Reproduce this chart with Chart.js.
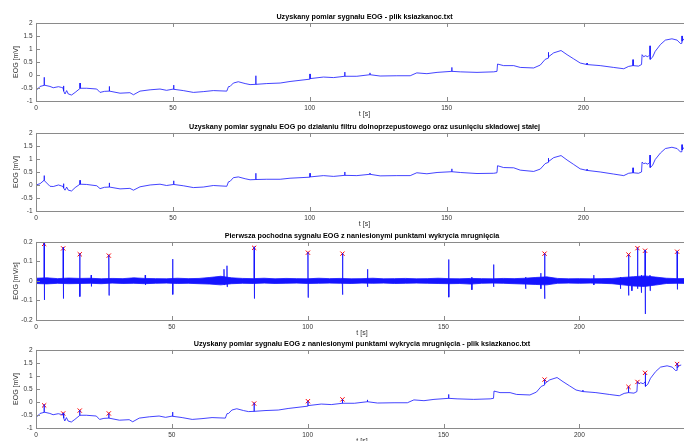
<!DOCTYPE html>
<html lang="pl">
<head>
  <meta charset="UTF-8">
  <title>Sygnał EOG</title>
  <script src="https://cdn.jsdelivr.net/npm/chart.js"></script>
  <style>
    html, body { margin: 0; padding: 0; background: #fff; }
    body { width: 684px; height: 441px; overflow: hidden; position: relative; }
    canvas { position: absolute; left: 0; }
  </style>
</head>
<body>
  <canvas id="raw" width="693" height="125" style="top:0px"></canvas>
  <canvas id="filtered" width="693" height="125" style="top:110px"></canvas>
  <canvas id="deriv" width="693" height="125" style="top:219px"></canvas>
  <canvas id="marked" width="693" height="125" style="top:327px"></canvas>

  <script>
    // tick labels
    const timeTicks = [0, 50, 100, 150, 200];
    const mvTicks = [-1, -0.5, 0, 0.5, 1, 1.5, 2];
    const derivTicks = [-0.2, -0.1, 0, 0.1, 0.2];

    // raw EOG [t, mV]
    const rawPoints = [
      [0,-0.6],[1.5,-0.44],[2.96,-0.4],[3.0,-0.09],[3.04,-0.39],[5.1,-0.44],[6.3,-0.49],[8.2,-0.45],
      [9.4,-0.48],[9.9,-0.5],[10.0,-0.42],[10.2,-0.62],[10.6,-0.73],[11.2,-0.6],[11.8,-0.73],[13.0,-0.77],
      [14.3,-0.67],[16.06,-0.52],[16.1,-0.31],[16.14,-0.51],[18.5,-0.51],[22.2,-0.54],[23.4,-0.67],[25.0,-0.63],
      [26.76,-0.62],[26.8,-0.44],[26.84,-0.62],[30.7,-0.7],[34.3,-0.68],[35.6,-0.76],[38.0,-0.62],[41.7,-0.57],
      [45.3,-0.54],[47.7,-0.59],[50.26,-0.54],[50.3,-0.39],[50.34,-0.55],[53.8,-0.6],[57.5,-0.67],[61.1,-0.64],
      [64.8,-0.6],[69.7,-0.62],[70.3,-0.45],[70.9,-0.44],[72.1,-0.31],[73.9,-0.26],[76.4,-0.33],[78.2,-0.37],
      [80.26,-0.36],[80.3,-0.03],[80.34,-0.36],[84.3,-0.33],[89.2,-0.31],[92.8,-0.25],[100.06,-0.16],[100.1,0.04],
      [100.14,-0.14],[105.0,-0.08],[108.7,-0.1],[112.76,-0.05],[112.8,0.11],[112.84,-0.05],[117.2,-0.05],[121.96,0.01],
      [122.0,0.08],[122.04,0.01],[125.7,-0.04],[131.8,-0.03],[136.7,-0.03],[139.1,0.08],[142.8,0.05],[146.5,0.1],
      [151.86,0.14],[151.9,0.29],[151.94,0.14],[155.0,0.12],[161.1,0.1],[167.2,0.12],[168.4,0.14],[168.6,0.42],
      [170.8,0.36],[174.5,0.36],[176.9,0.29],[181.8,0.27],[184.2,0.38],[186.0,0.6],[187.16,0.65],[187.2,0.87],
      [187.24,0.7],[189.1,0.85],[191.8,0.94],[194.0,0.78],[196.4,0.62],[198.8,0.46],[201.26,0.4],[201.3,0.46],
      [201.34,0.4],[206.1,0.36],[211.0,0.29],[214.7,0.24],[216.5,0.33],[218.06,0.36],[218.1,0.59],[218.14,0.36],
      [220.1,0.34],[221.2,0.4],[221.4,0.78],[222.0,0.7],[222.6,0.74],[223.5,0.7],[224.26,0.78],[224.3,1.12],
      [224.36,0.6],[225.2,0.68],[226.2,0.91],[228.1,1.17],[229.9,1.34],[232.3,1.39],[234.2,1.34],[235.4,1.21],
      [235.96,1.22],[236.0,1.5],[236.04,1.3],[236.8,1.4],[237.5,1.42]
    ];

    // low-pass filtered, offset removed [t, mV]
    const filteredPoints = [
      [0,0.0],[1.5,0.05],[2.96,0.18],[3.0,0.36],[3.04,0.17],[5.1,-0.05],[6.3,-0.06],[8.2,0.0],
      [9.4,-0.04],[9.9,-0.06],[10.0,0.05],[10.2,-0.12],[10.6,-0.2],[11.2,-0.08],[11.8,-0.2],[13.0,-0.23],
      [14.3,-0.1],[16.06,0.03],[16.1,0.18],[16.14,0.03],[18.5,0.02],[22.2,-0.03],[23.4,-0.14],[25.0,-0.09],
      [26.76,-0.08],[26.8,0.08],[26.84,-0.08],[30.7,-0.15],[34.3,-0.13],[35.6,-0.2],[38.0,-0.07],[41.7,0.0],
      [45.3,0.03],[47.7,-0.02],[50.26,0.02],[50.3,0.16],[50.34,0.02],[53.8,-0.03],[57.5,-0.1],[61.1,-0.08],
      [64.8,-0.02],[69.7,-0.05],[70.3,0.12],[70.9,0.14],[72.1,0.28],[73.9,0.31],[76.4,0.24],[78.2,0.2],
      [80.26,0.21],[80.3,0.45],[80.34,0.21],[84.3,0.22],[89.2,0.22],[92.8,0.26],[100.06,0.3],[100.1,0.45],
      [100.14,0.31],[105.0,0.36],[108.7,0.33],[112.76,0.37],[112.8,0.5],[112.84,0.37],[117.2,0.36],[121.96,0.41],
      [122.0,0.46],[122.04,0.41],[125.7,0.35],[131.8,0.36],[136.7,0.36],[139.1,0.47],[142.8,0.43],[146.5,0.48],
      [151.86,0.51],[151.9,0.62],[151.94,0.51],[155.0,0.48],[161.1,0.44],[167.2,0.45],[168.4,0.47],[168.6,0.74],
      [170.8,0.67],[174.5,0.66],[176.9,0.57],[181.8,0.52],[184.2,0.61],[186.0,0.82],[187.16,0.87],[187.2,1.03],
      [187.24,0.9],[189.1,1.05],[191.8,1.13],[194.0,0.96],[196.4,0.79],[198.8,0.62],[201.26,0.56],[201.3,0.6],
      [201.34,0.56],[206.1,0.5],[211.0,0.42],[214.7,0.36],[216.5,0.45],[218.06,0.47],[218.1,0.66],[218.14,0.47],
      [220.1,0.45],[221.2,0.5],[221.4,0.88],[222.0,0.82],[222.6,0.84],[223.5,0.8],[224.26,0.88],[224.3,1.15],
      [224.36,0.67],[225.2,0.75],[226.2,0.98],[228.1,1.23],[229.9,1.4],[232.3,1.45],[234.2,1.4],[235.4,1.27],
      [235.96,1.28],[236.0,1.55],[236.04,1.35],[236.8,1.45],[237.5,1.46]
    ];

    // derivative: noise band envelope every 4 s, 0..240
    const bandTimes = [0,4,8,12,16,20,24,28,32,36,40,44,48,52,56,60,64,68,72,76,80,84,88,92,96,100,104,108,112,116,120,
      124,128,132,136,140,144,148,152,156,160,164,168,172,176,180,184,188,192,196,200,204,208,212,216,220,224,228,232,236,240];
    const bandUpper = [0.014,0.016,0.012,0.015,0.013,0.014,0.011,0.013,0.012,0.016,0.013,0.012,0.011,0.014,0.012,0.013,
      0.018,0.024,0.016,0.013,0.012,0.014,0.011,0.013,0.012,0.011,0.014,0.012,0.013,0.011,0.012,
      0.014,0.011,0.012,0.013,0.011,0.012,0.014,0.012,0.011,0.013,0.012,0.011,0.013,0.012,0.014,
      0.018,0.021,0.013,0.011,0.012,0.011,0.012,0.013,0.018,0.022,0.026,0.02,0.014,0.012,0.013];
    const bandLower = [-0.013,-0.015,-0.012,-0.014,-0.013,-0.012,-0.014,-0.011,-0.013,-0.012,-0.014,-0.012,-0.011,-0.013,-0.012,-0.014,
      -0.016,-0.02,-0.014,-0.012,-0.013,-0.011,-0.013,-0.012,-0.011,-0.013,-0.012,-0.011,-0.012,-0.013,-0.011,
      -0.012,-0.011,-0.013,-0.012,-0.011,-0.012,-0.013,-0.014,-0.013,-0.016,-0.012,-0.011,-0.012,-0.014,-0.016,
      -0.018,-0.02,-0.012,-0.011,-0.012,-0.011,-0.012,-0.014,-0.02,-0.026,-0.028,-0.021,-0.013,-0.012,-0.013];
    // derivative spikes [t, peak, trough] in mV/s
    const derivSpikes = [
      [3.0,0.195,-0.097],[10.0,0.172,-0.09],[16.1,0.141,-0.08],[20.3,0.03,-0.028],[26.8,0.134,-0.074],
      [40.2,0.03,-0.02],[50.3,0.112,-0.069],[69.2,0.06,-0.02],[70.3,0.078,-0.03],[80.3,0.175,-0.09],
      [100.1,0.148,-0.085],[112.8,0.142,-0.07],[122.0,0.06,-0.03],[151.9,0.11,-0.083],[160.4,0.02,-0.045],
      [168.4,0.084,-0.03],[180.2,0.02,-0.04],[185.8,0.04,-0.04],[187.2,0.141,-0.091],[205.3,0.03,-0.02],
      [215.1,0.02,-0.04],[218.1,0.136,-0.074],[219.3,0.02,-0.05],[221.4,0.171,-0.04],[222.8,0.03,-0.06],
      [224.2,0.159,-0.169],[226.0,0.03,-0.05],[236.0,0.153,-0.043]
    ];

    // detected blinks
    const blinkTimes = [3.0, 10.0, 16.1, 26.8, 80.3, 100.1, 112.8, 187.2, 218.1, 221.4, 224.2, 236.0];
    const blinkDeriv = [0.19, 0.167, 0.137, 0.13, 0.17, 0.145, 0.14, 0.14, 0.135, 0.168, 0.155, 0.15];
    const blinkSignal = [-0.13, -0.44, -0.33, -0.44, -0.06, 0.03, 0.1, 0.86, 0.58, 0.77, 1.12, 1.46];

    const FONT = 'Helvetica, "Liberation Sans", Arial, sans-serif';
    const AXIS_GRAY = '#8a8a8a';
    const BLUE = 'rgb(20,20,255)';
    const RED = '#ff0000';

    // matlab-like box with inward ticks on all sides
    const boxPlugin = {
      id: 'box',
      afterDraw(chart) {
        const { ctx, chartArea: a, scales: { x, y } } = chart;
        ctx.save();
        ctx.strokeStyle = AXIS_GRAY;
        ctx.lineWidth = 1;
        ctx.strokeRect(Math.round(a.left) + 0.5, Math.round(a.top) + 0.5,
          Math.round(a.right - a.left) - 1, Math.round(a.bottom - a.top));
        ctx.beginPath();
        x.ticks.forEach(t => {
          const px = Math.round(x.getPixelForValue(t.value)) + 0.5;
          ctx.moveTo(px, a.bottom); ctx.lineTo(px, a.bottom - 4);
          ctx.moveTo(px, a.top); ctx.lineTo(px, a.top + 4);
        });
        y.ticks.forEach(t => {
          const py = Math.round(y.getPixelForValue(t.value)) + 0.5;
          ctx.moveTo(a.left, py); ctx.lineTo(a.left + 4, py);
          ctx.moveTo(a.right, py); ctx.lineTo(a.right - 4, py);
        });
        ctx.stroke();
        ctx.restore();
      }
    };

    function pairs(list) {
      return list.map(p => ({ x: p[0], y: p[1] }));
    }

    function makeOptions(title, yTitle, yMin, yMax, yTicks) {
      return {
        responsive: false,
        animation: false,
        events: [],
        layout: { padding: 0 },
        plugins: {
          legend: { display: false },
          tooltip: { enabled: false },
          title: {
            display: true,
            text: title,
            fullSize: false,
            color: '#000',
            font: { family: FONT, size: 7.2, weight: 'bold', lineHeight: 1.2 },
            padding: { top: 12.5, bottom: 1.8 }
          }
        },
        scales: {
          x: {
            type: 'linear',
            min: 0,
            max: 240,
            afterBuildTicks: s => { s.ticks = timeTicks.map(v => ({ value: v })); },
            afterFit: s => { s.height = 24; },
            grid: { display: false, drawTicks: false },
            border: { display: false },
            ticks: { color: '#333', padding: 3, maxRotation: 0, font: { family: FONT, size: 6.5 },
              callback: v => String(v) },
            title: {
              display: true, text: 't [s]', color: '#333',
              font: { family: FONT, size: 7 }, padding: { top: 0, bottom: 6.5 }
            }
          },
          y: {
            min: yMin,
            max: yMax,
            afterBuildTicks: s => { s.ticks = yTicks.map(v => ({ value: v })); },
            afterFit: s => { s.width = 36; },
            grid: { display: false, drawTicks: false },
            border: { display: false },
            ticks: { color: '#333', padding: 3.5, font: { family: FONT, size: 6.5 },
              callback: v => String(v) },
            title: {
              display: true, text: yTitle, color: '#333',
              font: { family: FONT, size: 7 }, padding: { top: 11.5, bottom: 0 }
            }
          }
        }
      };
    }

    const lineStyle = {
      borderColor: BLUE, borderWidth: 0.8, borderJoinStyle: 'round', pointRadius: 0, tension: 0, fill: false
    };
    const markerStyle = {
      showLine: false, pointStyle: 'crossRot', pointRadius: 3, pointBorderColor: RED,
      pointBorderWidth: 1, borderColor: RED, backgroundColor: RED
    };

    new Chart(document.getElementById('raw'), {
      type: 'line',
      data: { datasets: [{ ...lineStyle, data: pairs(rawPoints) }] },
      options: makeOptions('Uzyskany pomiar sygnału EOG - plik ksiazkanoc.txt', 'EOG [mV]', -1, 2, mvTicks),
      plugins: [boxPlugin]
    });

    new Chart(document.getElementById('filtered'), {
      type: 'line',
      data: { datasets: [{ ...lineStyle, data: pairs(filteredPoints) }] },
      options: makeOptions('Uzyskany pomiar sygnału EOG po działaniu filtru dolnoprzepustowego oraz usunięciu składowej stałej',
        'EOG [mV]', -1, 2, mvTicks),
      plugins: [boxPlugin]
    });

    const spikeLine = [];
    derivSpikes.forEach(s => {
      spikeLine.push({ x: s[0] - 0.08, y: 0 }, { x: s[0], y: s[1] }, { x: s[0] + 0.08, y: s[2] }, { x: s[0] + 0.16, y: 0 });
    });

    new Chart(document.getElementById('deriv'), {
      type: 'line',
      data: {
        datasets: [
          { ...lineStyle, data: bandTimes.map((t, i) => ({ x: t, y: bandUpper[i] })) },
          { ...lineStyle, fill: 0, backgroundColor: BLUE,
            data: bandTimes.map((t, i) => ({ x: t, y: bandLower[i] })) },
          { ...lineStyle, data: spikeLine },
          { ...markerStyle, data: blinkTimes.map((t, i) => ({ x: t, y: blinkDeriv[i] })) }
        ]
      },
      options: makeOptions('Pierwsza pochodna sygnału EOG z naniesionymi punktami wykrycia mrugnięcia',
        'EOG [mV/s]', -0.2, 0.2, derivTicks),
      plugins: [boxPlugin]
    });

    new Chart(document.getElementById('marked'), {
      type: 'line',
      data: {
        datasets: [
          { ...lineStyle, data: pairs(rawPoints) },
          { ...markerStyle, data: blinkTimes.map((t, i) => ({ x: t, y: blinkSignal[i] })) }
        ]
      },
      options: makeOptions('Uzyskany pomiar sygnału EOG z naniesionymi punktami wykrycia mrugnięcia - plik ksiazkanoc.txt',
        'EOG [mV]', -1, 2, mvTicks),
      plugins: [boxPlugin]
    });
  </script>
</body>
</html>
